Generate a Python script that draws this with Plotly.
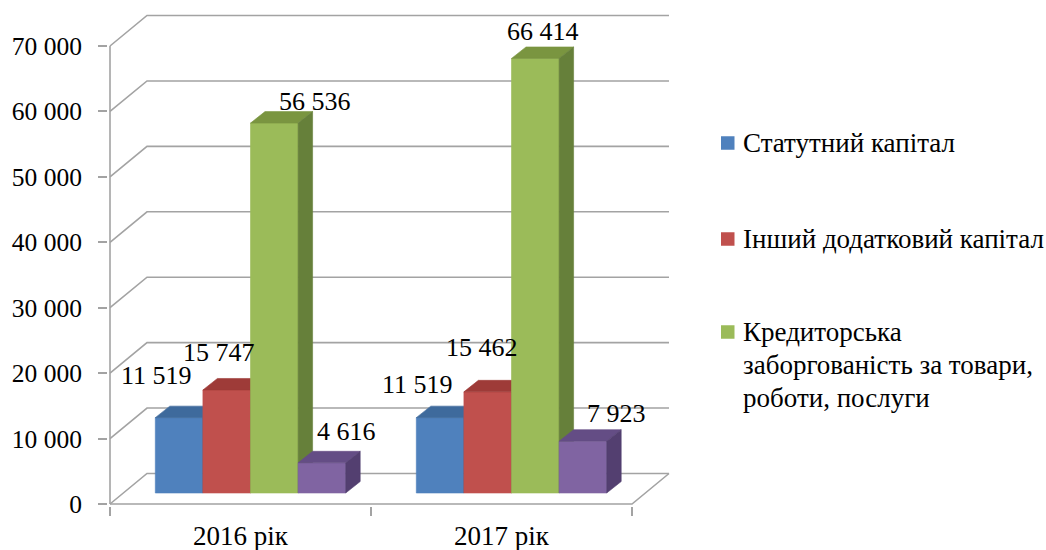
import plotly.graph_objects as go

# ---------------- data ----------------
CATEGORIES = ["2016 рік", "2017 рік"]
SERIES_NAMES = [
    "Статутний капітал",
    "Інший додатковий капітал",
    "Кредиторська<br>заборгованість за товари,<br>роботи, послуги",
    None,  # fourth series has no legend entry in the source
]
STATUTORY_CAPITAL = [11519, 11519]
OTHER_ADDITIONAL_CAPITAL = [15747, 15462]
ACCOUNTS_PAYABLE = [56536, 66414]
FOURTH_SERIES = [4616, 7923]
Y_TICKS = [0, 10000, 20000, 30000, 40000, 50000, 60000, 70000]

SERIES_VALUES = [STATUTORY_CAPITAL, OTHER_ADDITIONAL_CAPITAL, ACCOUNTS_PAYABLE, FOURTH_SERIES]

# ---------------- style ----------------
FRONT = ["#4F81BD", "#C0504D", "#9BBB59", "#8064A2"]
TOP = ["#3E6A9C", "#9E3B38", "#7A9540", "#644D85"]
SIDE = ["#375C88", "#86322F", "#66803A", "#533F70"]
GRID = "#A3A3A3"
FONT = "Liberation Serif"
FS_LABEL = 26      # data labels
FS_YTICK = 25.5
FS_XTICK = 27
FS_LEGEND = 27

W, H = 1046, 550
ML, MT = 110, 10
Y0PX = 504            # pixel row of value 0 on the front plane
PAD = 2               # small padding so edge lines are not clipped
PLOT_R = 690
PX_PER_CAT = 261.0
PX_PER_VAL = 458.0 / 70000.0

# oblique 3D offsets (pixels)
DXW, DYW = 37.0, 30.5     # full depth of walls/floor
BX0, BY0 = 10.0, 11.0     # shift of bar front faces
BDX, BDY = 14.5, 11.5     # depth of the bars
BW = 47.6                 # bar width

# per-label pixel offsets (right, up) relative to each bar's top-front centre
LABEL_SHIFT = [
    [(-23, 42), (-8, 37), (41, 22), (25, 31)],
    [(-23, 33), (-6, 44), (8, 27), (34, 28)],
]

# manual legend layout (pixels)
LEG_SQ_X = 721
LEG_SQ = 13.5
LEG_TEXT_X = 741
LEG_ROW_Y = [143, 239, 332]   # centre of the first text line of each entry
LEG_LINE_H = 33


def ux(px):
    return px / PX_PER_CAT


def uy(px):
    return px / PX_PER_VAL


PLOT_L = ML - PAD
PLOT_B = Y0PX + PAD
PW = PLOT_R - PLOT_L
PH = PLOT_B - MT


def paper_x(px):
    return (px - PLOT_L) / PW


def paper_y(py):
    return (PLOT_B - py) / PH


ncat = len(CATEGORIES)
xmin = -ux(PAD)
xmax = ux(PLOT_R - ML)
ymin = -uy(PAD)
ymax = uy(Y0PX - MT)

fig = go.Figure()

# walls, floor and gridlines
gx, gy = [], []
for v in Y_TICKS:
    gx += [0, ux(DXW), ncat + ux(DXW), None]
    gy += [v, v + uy(DYW), v + uy(DYW), None]
gx += [0, ncat, ncat + ux(DXW), None]
gy += [0, 0, uy(DYW), None]
gx += [0, 0]
gy += [0, Y_TICKS[-1]]
fig.add_trace(go.Scatter(x=gx, y=gy, mode="lines", line=dict(color=GRID, width=1.6),
                         hoverinfo="skip", showlegend=False))

# bars (painted left to right)
annotations = []
nser = len(SERIES_VALUES)
for c in range(ncat):
    center = c + 0.5 + ux(BX0)
    b = uy(BY0)
    for s in range(nser):
        v = SERIES_VALUES[s][c]
        xl = center + ux((s - nser / 2) * BW)
        xr = xl + ux(BW)
        top = b + v
        dx, dy = ux(BDX), uy(BDY)
        faces = [
            ([xl, xr, xr, xl, xl], [b, b, top, top, b], FRONT[s]),
            ([xl, xr, xr + dx, xl + dx, xl], [top, top, top + dy, top + dy, top], TOP[s]),
            ([xr, xr + dx, xr + dx, xr, xr], [b, b + dy, top + dy, top, b], SIDE[s]),
        ]
        for fx, fy, col in faces:
            fig.add_trace(go.Scatter(x=fx, y=fy, mode="lines", fill="toself",
                                     fillcolor=col, line=dict(color=col, width=0.6),
                                     hoverinfo="skip", showlegend=False))
        sx, sy = LABEL_SHIFT[c][s]
        annotations.append(dict(
            x=(xl + xr) / 2, y=top, xref="x", yref="y",
            text=f"{v:,}".replace(",", " "), showarrow=False,
            xshift=sx, yshift=sy, font=dict(family=FONT, size=FS_LABEL, color="black"),
        ))

# legend (drawn manually so the entries sit exactly as in the source)
shapes = []
row = 0
for s in range(nser):
    if SERIES_NAMES[s] is None:
        continue
    cy = LEG_ROW_Y[row]
    row += 1
    shapes.append(dict(type="rect", xref="paper", yref="paper",
                       x0=paper_x(LEG_SQ_X), x1=paper_x(LEG_SQ_X + LEG_SQ),
                       y0=paper_y(cy + LEG_SQ / 2), y1=paper_y(cy - LEG_SQ / 2),
                       fillcolor=FRONT[s], line=dict(width=0)))
    for i, line in enumerate(SERIES_NAMES[s].split("<br>")):
        annotations.append(dict(
            x=paper_x(LEG_TEXT_X), y=paper_y(cy + i * LEG_LINE_H), xref="paper", yref="paper",
            xanchor="left", yanchor="middle", align="left", showarrow=False,
            text=line, font=dict(family=FONT, size=FS_LEGEND, color="black"),
        ))

fig.update_layout(
    width=W, height=H,
    margin=dict(l=PLOT_L, r=W - PLOT_R, t=MT, b=H - PLOT_B, autoexpand=False),
    paper_bgcolor="white", plot_bgcolor="white",
    font=dict(family=FONT, size=FS_LABEL, color="black"),
    separators=", ",
    showlegend=False,
    annotations=annotations,
    shapes=shapes,
)
fig.update_xaxes(range=[xmin, xmax], showgrid=False, zeroline=False, showline=False,
                 tickmode="array", tickvals=[i + 0.5 for i in range(ncat)], ticktext=CATEGORIES,
                 ticks="", ticklabelstandoff=11,
                 minor=dict(ticks="outside", tick0=0, dtick=1, ticklen=9, tickwidth=1.6,
                            tickcolor=GRID, showgrid=False),
                 tickfont=dict(family=FONT, size=FS_XTICK, color="black"), fixedrange=True)
fig.update_yaxes(range=[ymin, ymax], showgrid=False, zeroline=False, showline=False,
                 tickmode="array", tickvals=Y_TICKS, tickformat=",",
                 ticks="outside", ticklen=9, tickwidth=1.6, tickcolor=GRID,
                 ticklabelstandoff=11,
                 tickfont=dict(family=FONT, size=FS_YTICK, color="black"), fixedrange=True)

fig.write_html("out.html", config={"displayModeBar": False},
               post_script="document.body.style.margin='0px';")
